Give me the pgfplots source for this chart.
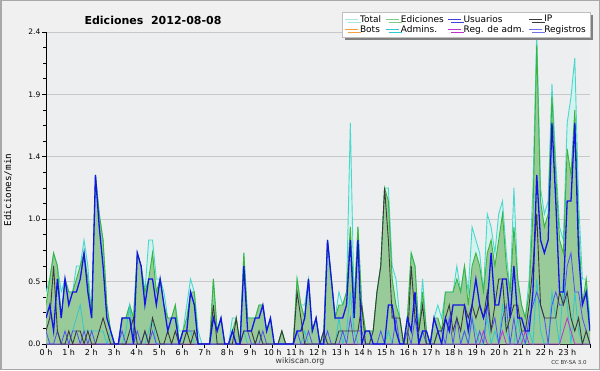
\documentclass[border=0pt]{standalone}
\usepackage{fontspec}
\setmainfont{DejaVu Sans}
\newfontfamily\monofont{DejaVu Sans Mono}
\usepackage{pgfplots}
\pgfplotsset{compat=1.18}
\usepackage{pgfplotstable}
\usetikzlibrary{shadows}

\definecolor{outerbg}{HTML}{F0F0F0}
\definecolor{plotbg}{HTML}{ECEEF0}
\definecolor{borderc}{HTML}{A8A8A8}
\definecolor{gridc}{HTML}{C8C8C8}
\definecolor{totline}{HTML}{48D8CC}
\definecolor{totfill}{HTML}{D4F2EE}
\definecolor{edline}{HTML}{3CB43C}
\definecolor{edfill}{HTML}{99CA99}
\definecolor{usr}{HTML}{1414E6}
\definecolor{ipc}{HTML}{3A3A3A}
\definecolor{adm}{HTML}{30C8D0}
\definecolor{regc}{HTML}{5050F5}
\definecolor{radm}{HTML}{C030D0}
\definecolor{botc}{HTML}{F5A040}
\definecolor{legtot}{HTML}{A8E6E2}
\definecolor{leged}{HTML}{80CC80}
\definecolor{legusr}{HTML}{4040D8}
\definecolor{legreg}{HTML}{7070EE}

\pgfplotstableread{
i T E U P A R M
0 0.4 0.3 0.2 0.1 0 0.1 0
1 0.5 0.5 0.3 0.2 0 0 0
2 0.7 0.7 0.1 0.6 0 0 0
3 0.6 0.6 0.5 0.1 0 0.1 0
4 0.4 0.2 0.2 0 0 0 0
5 0.5 0.5 0.5 0 0 0.1 0
6 0.4 0.4 0.3 0.1 0 0 0
7 0.4 0.4 0.4 0 0.1 0.1 0
8 0.6 0.5 0.4 0.1 0.2 0.1 0
9 0.6 0.6 0.5 0.1 0.3 0 0
10 0.8 0.7 0.7 0 0.1 0.1 0
11 0.6 0.5 0.4 0.1 0.1 0 0
12 0.2 0.2 0.2 0 0.1 0.1 0
13 1.3 1.3 1.3 0 0.1 0 0
14 1.0 1.0 0.9 0.1 0.1 0 0
15 0.8 0.8 0.6 0.2 0.1 0 0
16 0.3 0.3 0.2 0.1 0 0 0
17 0.1 0.1 0.1 0 0.1 0 0
18 0 0 0 0 0 0 0
19 0 0 0 0 0 0 0
20 0.2 0.2 0.2 0 0 0.1 0
21 0.2 0.2 0.2 0 0.1 0 0
22 0.3 0.3 0.2 0.1 0.3 0 0
23 0.2 0.2 0 0.2 0 0 0
24 0.7 0.7 0.7 0 0 0.1 0
25 0.6 0.6 0.6 0 0 0 0
26 0.4 0.4 0.3 0.1 0 0.1 0
27 0.8 0.5 0.5 0 0.1 0 0
28 0.8 0.7 0.5 0.2 0.2 0.1 0
29 0.5 0.4 0.3 0.1 0 0 0
30 0.5 0.5 0.5 0 0 0 0
31 0.4 0.3 0.3 0 0 0 0
32 0.2 0.2 0.1 0.1 0 0 0
33 0.2 0.2 0.2 0 0 0 0
34 0.3 0.3 0.2 0.1 0 0 0
35 0.1 0 0 0 0 0 0
36 0.1 0.1 0.1 0 0 0.1 0
37 0.3 0.2 0.1 0.1 0.1 0.1 0
38 0.5 0.4 0.4 0 0.1 0.1 0
39 0.4 0.4 0.3 0.1 0 0.1 0
40 0.1 0 0 0 0 0 0
41 0 0 0 0 0 0 0
42 0 0 0 0 0 0 0
43 0 0 0 0 0 0 0
44 0.5 0.5 0.2 0.3 0 0 0
45 0.1 0.1 0.1 0 0 0 0
46 0.2 0.2 0.2 0 0 0 0
47 0 0 0 0 0 0 0
48 0 0 0 0 0 0 0
49 0.2 0.1 0.1 0 0 0.1 0
50 0.2 0.2 0 0.2 0 0 0
51 0 0 0 0 0 0 0
52 0.7 0.7 0.6 0.1 0.1 0.1 0
53 0.2 0.2 0.1 0.1 0 0.1 0
54 0.2 0.2 0.1 0.1 0 0 0
55 0.2 0.2 0.2 0 0 0 0
56 0.3 0.3 0.2 0.1 0.1 0 0
57 0.3 0.3 0.3 0 0 0.1 0
58 0.1 0.1 0.1 0 0 0 0
59 0.2 0.2 0.2 0 0 0 0
60 0 0 0 0 0 0 0
61 0 0 0 0 0 0 0
62 0.1 0.1 0 0.1 0 0 0
63 0 0 0 0 0 0 0
64 0 0 0 0 0 0 0
65 0 0 0 0 0 0 0
66 0.5 0.5 0.1 0.4 0 0.1 0
67 0.3 0.3 0.1 0.2 0 0 0
68 0.3 0.2 0.2 0 0.1 0 0
69 0.5 0.5 0.5 0 0 0.1 0
70 0.1 0.1 0.1 0 0 0 0
71 0.2 0.2 0.2 0 0 0 0
72 0 0 0 0 0 0 0
73 0.1 0.1 0 0.1 0 0 0
74 0.8 0.8 0.8 0 0 0.1 0
75 0.5 0.5 0.5 0 0 0 0
76 0.2 0.2 0.2 0 0 0 0
77 0.4 0.3 0.2 0.1 0.2 0 0
78 0.3 0.3 0.2 0.1 0 0.1 0
79 0.4 0.4 0.3 0.1 0.1 0 0
80 1.7 0.9 0.8 0.1 0.4 0.2 0
81 0.3 0.3 0.2 0.1 0.1 0 0
82 0.9 0.9 0.8 0.1 0 0.1 0
83 0.3 0.3 0 0.3 0 0.1 0
84 0.1 0.1 0.1 0 0 0 0
85 0.1 0.1 0.1 0 0 0 0
86 0.1 0.1 0 0.1 0 0 0
87 0.4 0.4 0 0.4 0 0 0
88 0.6 0.6 0 0.6 0 0.1 0
89 1.2 1.2 0 1.2 0 0 0
90 1.2 1.1 0.3 0.8 0.1 0 0
91 0.6 0.5 0.3 0.2 0 0 0
92 0.5 0.3 0.1 0.2 0 0.2 0
93 0.2 0.2 0 0.2 0 0 0
94 0 0 0 0 0 0 0
95 0.2 0.2 0.2 0 0 0.1 0
96 0.7 0.7 0.1 0.6 0 0 0
97 0.6 0.6 0.4 0.2 0 0.2 0
98 0.1 0.1 0 0.1 0 0 0
99 0.5 0.4 0.1 0.3 0.1 0.1 0
100 0.1 0.1 0.1 0 0 0 0
101 0 0 0 0 0 0 0
102 0.2 0.2 0.2 0 0 0 0
103 0.3 0.2 0.1 0.1 0 0.1 0
104 0.2 0.1 0 0.1 0 0.1 0
105 0.4 0.4 0.2 0.2 0 0 0
106 0.4 0.4 0.1 0.3 0 0.2 0
107 0.4 0.4 0.3 0.1 0 0 0
108 0.6 0.5 0.3 0.2 0 0.2 0
109 0.4 0.4 0.3 0.1 0 0 0
110 0.6 0.6 0.3 0.3 0.1 0.1 0
111 0.4 0.3 0.1 0.2 0 0 0
112 0.9 0.6 0.3 0.3 0.2 0.2 0
113 0.8 0.7 0.5 0.2 0.1 0 0
114 0.7 0.6 0.3 0.3 0 0.1 0
115 0.4 0.4 0.2 0.2 0 0 0.1
116 1.0 0.7 0.3 0.4 0.2 0.3 0
117 0.9 0.8 0.7 0.1 0 0.1 0
118 0.7 0.6 0.3 0.3 0.1 0.2 0
119 1.0 0.8 0.3 0.5 0 0 0
120 1.1 1.0 0.5 0.5 0.3 0.2 0.1
121 0.7 0.6 0.5 0.1 0.1 0.3 0
122 0.4 0.4 0.2 0.2 0 0 0
123 1.2 0.9 0.6 0.3 0 0.2 0
124 0.5 0.5 0.2 0.3 0.2 0 0
125 0.3 0.3 0.2 0.1 0 0.1 0
126 0.2 0.2 0.1 0.1 0 0 0.1
127 0.5 0.4 0.1 0.3 0.1 0.2 0
128 1.2 1.0 0.4 0.6 0 0.3 0
129 2.4 2.3 1.3 1.0 0.5 0.4 0
130 1.2 1.1 0.8 0.3 0.1 0.3 0
131 1.0 0.9 0.7 0.2 0 0.2 0
132 1.1 1.0 0.8 0.2 0 0 0
133 2.0 1.9 1.7 0.2 0.4 0.3 0
134 1.4 1.3 1.1 0.2 0.2 0.4 0
135 0.9 0.8 0.4 0.4 0 0.3 0
136 0.8 0.7 0.4 0.3 0.5 0.3 0.1
137 1.7 1.5 1.1 0.4 0.3 0.6 0.2
138 1.9 1.3 1.1 0.2 0 0.7 0.1
139 2.2 1.8 1.7 0.1 0.4 0.4 0
140 1.1 0.9 0.7 0.2 0.1 0.4 0
141 0.5 0.3 0.3 0 0 0.2 0
142 0.5 0.5 0.4 0.1 0 0.1 0
143 0.2 0.1 0.1 0 0 0 0
}\data

\begin{document}
\begin{tikzpicture}[x=1pt,y=1pt]
\useasboundingbox (0,0) rectangle (600,370);
\fill[outerbg] (0,0) rectangle (600,370);
\draw[borderc, line width=1.5pt] (0.75,0.75) rectangle (599.25,369.25);
\begin{axis}[
  at={(46pt,26pt)}, anchor=south west,
  scale only axis, width=544pt, height=312pt,
  xmin=0, xmax=143, ymin=0, ymax=2.4,
  axis lines*=left,
  axis line style={black, line width=0.9pt},
  axis background/.style={fill=plotbg},
  ymajorgrids, grid style={gridc, line width=0.8pt},
  ytick={0,0.48,0.96,1.44,1.92,2.4},
  yticklabels={0.0,0.5,1.0,1.4,1.9,2.4},
  minor y tick num=3,
  xtick={0,5.9583,11.9167,17.875,23.8333,29.7917,35.75,41.7083,47.6667,53.625,59.5833,65.5417,71.5,77.4583,83.4167,89.375,95.3333,101.2917,107.25,113.2083,119.1667,125.125,131.0833,137.0417,143},
  xticklabels={0 h,1 h,2 h,3 h,4 h,5 h,6 h,7 h,8 h,9 h,10 h,11 h,12 h,13 h,14 h,15 h,16 h,17 h,18 h,19 h,20 h,21 h,22 h,23 h,{}},
  minor x tick num=5,
  tick align=outside,
  major tick length=4pt, minor tick length=3pt,
  tick style={black, line width=0.8pt},
  xticklabel style={font=\fontsize{8}{9}\selectfont, inner sep=1pt},
  yticklabel style={font=\fontsize{7.5}{9}\selectfont, inner sep=1.5pt},
  legend columns=4,
  legend cell align=left,
  legend image code/.code={\draw[#1] (0pt,0pt) -- (13pt,0pt);},
  legend style={at={(1,1)}, anchor=north east, yshift=20pt,
    draw=black!25, fill=white, font=\fontsize{9}{10}\selectfont,
    inner xsep=2pt, inner ysep=1pt, row sep=-2pt,
    /tikz/every even column/.append style={column sep=2pt},
    drop shadow={shadow xshift=3pt, shadow yshift=-3pt, fill=black!50, opacity=1}},
]
\addplot[fill=totfill, draw=none, forget plot] table[x=i,y=T] {\data} \closedcycle;
\addplot[fill=edfill, draw=none, forget plot] table[x=i,y=E] {\data} \closedcycle;
\addplot[totline, line width=0.9pt, forget plot] table[x=i,y=T] {\data};
\addplot[edline, line width=0.9pt, forget plot] table[x=i,y=E] {\data};
\addplot[adm, line width=0.8pt, forget plot] table[x=i,y=A] {\data};
\addplot[radm, line width=0.8pt, forget plot] table[x=i,y=M] {\data};
\addplot[regc, line width=0.8pt, forget plot] table[x=i,y=R] {\data};
\addplot[ipc, line width=0.9pt, forget plot] table[x=i,y=P] {\data};
\addplot[usr, line width=1.3pt, forget plot] table[x=i,y=U] {\data};
\addlegendimage{legtot, line width=0.9pt}\addlegendentry{Total}
\addlegendimage{leged, line width=0.9pt}\addlegendentry{Ediciones}
\addlegendimage{legusr, line width=0.9pt}\addlegendentry{Usuarios}
\addlegendimage{ipc, line width=0.9pt}\addlegendentry{IP}
\addlegendimage{botc, line width=0.9pt}\addlegendentry{Bots}
\addlegendimage{adm, line width=0.9pt}\addlegendentry{Admins.}
\addlegendimage{radm, line width=0.9pt}\addlegendentry{Reg. de adm.}
\addlegendimage{legreg, line width=0.9pt}\addlegendentry{Registros}
\end{axis}
\node[font=\bfseries\fontsize{11}{13}\selectfont] at (153,350) {Ediciones\ \ 2012-08-08};
\node[rotate=90, font=\monofont\fontsize{9.3}{11}\selectfont] at (8,180) {Ediciones/min};
\node[font=\fontsize{7.8}{9}\selectfont, text=black!80] at (300,9) {wikiscan.org};
\node[font=\fontsize{5.5}{7}\selectfont, text=black!80] at (569,8) {CC BY-SA 3.0};
\end{tikzpicture}
\end{document}
